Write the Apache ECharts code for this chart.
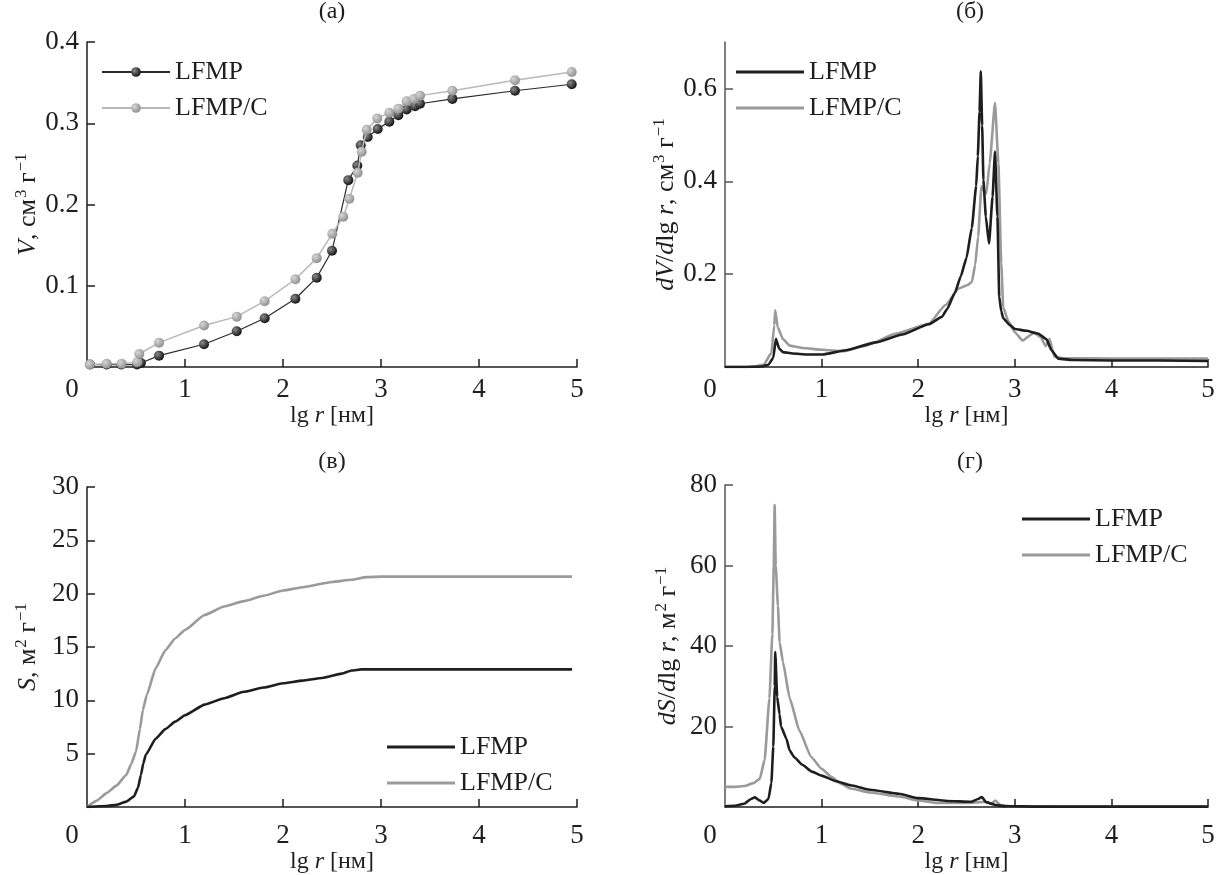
<!DOCTYPE html>
<html><head><meta charset="utf-8">
<script src="https://cdn.jsdelivr.net/npm/echarts@6/dist/echarts.min.js"></script>
<style>html,body{margin:0;padding:0;background:#fff}#c{width:1220px;height:875px}</style>
</head><body><div id="c"></div><script>
// ---------- DATA ----------
// Panel (а): cumulative pore volume V, cm3/g vs lg r
const aLfmpX  = [0.03, 0.2, 0.35, 0.51, 0.55, 0.735, 1.194, 1.528, 1.813, 2.126, 2.344, 2.5, 2.666, 2.758, 2.793, 2.864, 2.966, 3.085, 3.177, 3.262, 3.347, 3.398, 3.728, 4.367, 4.946];
const aLfmpY  = [0.003, 0.003, 0.003, 0.003, 0.005, 0.014, 0.028, 0.044, 0.060, 0.084, 0.110, 0.143, 0.230, 0.248, 0.273, 0.283, 0.293, 0.302, 0.310, 0.317, 0.321, 0.324, 0.330, 0.340, 0.348];
const aLfmpCX = [0.03, 0.2, 0.354, 0.513, 0.534, 0.735, 1.194, 1.528, 1.813, 2.126, 2.344, 2.503, 2.615, 2.677, 2.762, 2.803, 2.854, 2.962, 3.085, 3.177, 3.262, 3.337, 3.398, 3.728, 4.367, 4.946];
const aLfmpCY = [0.003, 0.004, 0.004, 0.006, 0.016, 0.030, 0.051, 0.062, 0.081, 0.108, 0.134, 0.164, 0.185, 0.207, 0.239, 0.265, 0.292, 0.306, 0.313, 0.318, 0.327, 0.330, 0.334, 0.340, 0.353, 0.363];

// Panel (б): dV/dlg r
const bLfmpX  = [0, 0.2, 0.38, 0.45, 0.5, 0.527, 0.56, 0.6, 0.7, 0.85, 1.01, 1.25, 1.56, 1.835, 2.11, 2.245, 2.3, 2.38, 2.44, 2.5, 2.555, 2.6, 2.617, 2.635, 2.648, 2.662, 2.675, 2.70, 2.733, 2.77, 2.795, 2.82, 2.839, 2.86, 2.88, 2.95, 3.0, 3.12, 3.24, 3.327, 3.38, 3.45, 3.6, 4, 4.5, 5];
const bLfmpY  = [0, 0, 0.001, 0.005, 0.02, 0.061, 0.04, 0.032, 0.029, 0.027, 0.027, 0.036, 0.053, 0.07, 0.092, 0.108, 0.125, 0.16, 0.195, 0.235, 0.3, 0.39, 0.454, 0.55, 0.637, 0.52, 0.403, 0.324, 0.266, 0.367, 0.464, 0.324, 0.151, 0.12, 0.105, 0.09, 0.082, 0.078, 0.072, 0.06, 0.036, 0.018, 0.015, 0.014, 0.014, 0.013];
const bLfmpCX = [0, 0.2, 0.3, 0.4, 0.48, 0.51, 0.52, 0.545, 0.6, 0.67, 0.8, 1.01, 1.22, 1.46, 1.77, 2.11, 2.28, 2.42, 2.505, 2.555, 2.59, 2.62, 2.655, 2.68, 2.705, 2.74, 2.795, 2.83, 2.86, 2.88, 2.93, 3.0, 3.08, 3.2, 3.27, 3.32, 3.36, 3.41, 3.5, 4, 4.5, 5];
const bLfmpCY = [0, 0, 0.001, 0.005, 0.03, 0.09, 0.122, 0.086, 0.06, 0.046, 0.041, 0.037, 0.034, 0.046, 0.072, 0.093, 0.133, 0.169, 0.176, 0.183, 0.22, 0.28, 0.389, 0.38, 0.374, 0.439, 0.569, 0.439, 0.223, 0.129, 0.1, 0.075, 0.057, 0.074, 0.064, 0.045, 0.06, 0.022, 0.019, 0.018, 0.018, 0.018];

// Panel (в): cumulative surface S, m2/g
const cLfmpX  = [0, 0.2, 0.3, 0.4, 0.48, 0.52, 0.55, 0.575, 0.6, 0.7, 0.8, 0.9, 1.0, 1.2, 1.4, 1.6, 1.8, 2.0, 2.2, 2.4, 2.6, 2.7, 2.8, 3.5, 4.2, 4.95];
const cLfmpY  = [0, 0.1, 0.2, 0.5, 1.0, 1.8, 3.0, 4.1, 4.9, 6.4, 7.3, 8.0, 8.6, 9.6, 10.2, 10.8, 11.2, 11.6, 11.85, 12.1, 12.5, 12.8, 12.9, 12.9, 12.9, 12.9];
const cLfmpCX = [0, 0.1, 0.2, 0.3, 0.4, 0.45, 0.5, 0.54, 0.57, 0.61, 0.7, 0.8, 0.9, 1.0, 1.2, 1.4, 1.6, 1.8, 2.0, 2.2, 2.5, 2.7, 2.85, 3.0, 4.0, 4.95];
const cLfmpCY = [0, 0.6, 1.3, 2.0, 3.0, 4.0, 5.2, 7.3, 9.1, 10.5, 13.0, 14.7, 15.8, 16.6, 18.0, 18.8, 19.3, 19.8, 20.3, 20.6, 21.1, 21.3, 21.55, 21.6, 21.6, 21.6];

// Panel (г): dS/dlg r
const dLfmpX  = [0, 0.1, 0.2, 0.27, 0.31, 0.36, 0.4, 0.45, 0.48, 0.5, 0.515, 0.52, 0.54, 0.565, 0.58, 0.635, 0.67, 0.72, 0.8, 0.9, 1.0, 1.15, 1.3, 1.5, 1.8, 2.0, 2.3, 2.55, 2.62, 2.66, 2.7, 2.8, 2.9, 3.2, 5];
const dLfmpY  = [0.2, 0.3, 0.8, 2.0, 2.4, 1.6, 1.0, 2.0, 6, 15, 30, 38.5, 27.4, 23, 20, 17, 14, 12.3, 10.5, 8.8, 7.8, 6.4, 5.4, 4.3, 3.3, 2.2, 1.5, 1.3, 2.0, 2.5, 1.2, 0.5, 0.2, 0.1, 0.1];
const dLfmpCX = [0, 0.1, 0.2, 0.3, 0.36, 0.41, 0.46, 0.49, 0.505, 0.514, 0.525, 0.548, 0.565, 0.6, 0.67, 0.77, 0.89, 1.0, 1.1, 1.2, 1.3, 1.5, 1.8, 2.0, 2.2, 2.5, 2.7, 2.75, 2.8, 2.85, 2.95, 3.5, 5];
const dLfmpCY = [5, 5, 5.2, 6, 7, 11.7, 27, 43, 60, 75, 60, 50, 41, 36, 27, 19, 12.5, 9.5, 7.5, 5.8, 4.6, 3.6, 2.6, 1.6, 1.0, 1.0, 1.3, 0.8, 1.6, 0.5, 0.2, 0.1, 0.1];

const xTickLabels = [0, 1, 2, 3, 4, 5];
const aYTicks = [0.1, 0.2, 0.3, 0.4];
const bYTicks = [0.2, 0.4, 0.6];
const cYTicks = [5, 10, 15, 20, 25, 30];
const dYTicks = [20, 40, 60, 80];
const seriesNames = ['LFMP', 'LFMP/C'];
const panelTitles = ['(а)', '(б)', '(в)', '(г)'];

// ---------- CHART ----------
const F = '"Liberation Serif", "DejaVu Serif", serif';
const INK = '#1e1e1e';
const GREY = '#9a9a9a';
const pairs = (xs, ys) => xs.map((x, i) => [x, ys[i]]);

const grids = [
  {left: 87,  top: 42,  width: 490, height: 325},
  {left: 725, top: 42,  width: 483, height: 325},
  {left: 87,  top: 487, width: 490, height: 320},
  {left: 725, top: 485, width: 483, height: 322}
];

const xNameRich = {
  n: {fontFamily: F, fontSize: 24, color: INK, lineHeight: 28},
  i: {fontFamily: F, fontSize: 24, fontStyle: 'italic', color: INK, lineHeight: 28}
};
const yNameRich = {
  n: {fontFamily: F, fontSize: 26, color: INK, lineHeight: 30},
  i: {fontFamily: F, fontSize: 26, fontStyle: 'italic', color: INK, lineHeight: 30},
  s: {fontFamily: F, fontSize: 17, color: INK, lineHeight: 30, verticalAlign: 'top', padding: [0, 0, 0, 1]}
};

function xAx(gi, margin, nameGap) {
  return {
    type: 'value', gridIndex: gi, min: 0, max: 5, interval: 1,
    axisLine: {show: true, onZero: false, lineStyle: {color: INK, width: 1.5}},
    axisTick: {show: true, inside: true, length: 8, customValues: [1, 2, 3, 4, 5], lineStyle: {color: INK, width: 1.5}},
    axisLabel: {
      customValues: xTickLabels, margin: margin, fontFamily: F, fontSize: 27, color: INK,
      formatter: v => v === 0 ? '{z|0}' : String(v),
      rich: {z: {fontFamily: F, fontSize: 27, color: INK, padding: [0, 30, 0, 0]}}
    },
    splitLine: {show: false},
    name: '{n|lg }{i|r}{n| [нм]}', nameLocation: 'middle', nameGap: nameGap,
    nameTextStyle: {rich: xNameRich}
  };
}
function yAx(gi, max, ticks, dec, name, axColor, gap) {
  return {
    type: 'value', gridIndex: gi, min: 0, max: max,
    axisLine: {show: true, onZero: false, lineStyle: {color: axColor, width: 1.5}},
    axisTick: {show: true, inside: true, length: 8, customValues: ticks, lineStyle: {color: axColor, width: 1.5}},
    axisLabel: {customValues: ticks, margin: 8, fontFamily: F, fontSize: 27, color: INK,
      formatter: v => v.toFixed(dec)},
    splitLine: {show: false},
    name: name, nameLocation: 'middle', nameRotate: 90, nameGap: gap,
    nameTextStyle: {rich: yNameRich}
  };
}

const sphere = (c0, c1) => ({type: 'radial', x: 0.35, y: 0.35, r: 0.75,
  colorStops: [{offset: 0, color: c0}, {offset: 1, color: c1}]});

function curve(name, gi, xs, ys, color, z) {
  return {name: name, type: 'line', xAxisIndex: gi, yAxisIndex: gi, data: pairs(xs, ys),
    symbol: 'none', smooth: 0.15, smoothMonotone: 'x', z: z,
    lineStyle: {color: color, width: 2.6}, itemStyle: {color: color}};
}

function legend(gi, left, top, plain) {
  const l = {
    show: true, orient: 'vertical', left: left, top: top,
    data: seriesNames.map(n => 'p' + gi + ':' + n),
    formatter: n => n.split(':')[1],
    itemWidth: 68, itemHeight: 12, itemGap: 10,
    textStyle: {fontFamily: F, fontSize: 26, color: INK},
    selectedMode: false
  };
  if (plain) { l.icon = 'rect'; l.itemHeight = 3; }
  return l;
}

const option = {
  animation: false,
  backgroundColor: '#fff',
  grid: grids,
  xAxis: [xAx(0, 9, 33), xAx(1, 9, 33), xAx(2, 15, 41), xAx(3, 15, 41)],
  yAxis: [
    yAx(0, 0.4, aYTicks, 1, '{i|V}{n|, см}{s|3}{n| г}{s|−1}', INK, 44),
    yAx(1, 0.7, bYTicks, 1, '{i|dV}{n|/}{i|d}{n|lg }{i|r}{n|, см}{s|3}{n| г}{s|−1}', '#555', 42),
    yAx(2, 30, cYTicks, 0, '{i|S}{n|, м}{s|2}{n| г}{s|−1}', INK, 44),
    yAx(3, 80, dYTicks, 0, '{i|dS}{n|/}{i|d}{n|lg }{i|r}{n|, м}{s|2}{n| г}{s|−1}', '#555', 42)
  ],
  legend: [legend(0, 96, 54, false), legend(1, 731, 54, true), legend(2, 382, 729, true), legend(3, 1017, 501, true)],
  series: [
    {name: 'p0:' + seriesNames[0], type: 'line', xAxisIndex: 0, yAxisIndex: 0, data: pairs(aLfmpX, aLfmpY),
      symbol: 'circle', symbolSize: 10, z: 2,
      lineStyle: {color: '#2a2a2a', width: 1.2},
      itemStyle: {color: sphere('#8a8a8a', '#050505'), borderWidth: 0}},
    {name: 'p0:' + seriesNames[1], type: 'line', xAxisIndex: 0, yAxisIndex: 0, data: pairs(aLfmpCX, aLfmpCY),
      symbol: 'circle', symbolSize: 10, z: 3,
      lineStyle: {color: '#b8b8b8', width: 1.5},
      itemStyle: {color: sphere('#d6d6d6', '#888888'), borderWidth: 0}},
    curve('p1:' + seriesNames[0], 1, bLfmpX, bLfmpY, INK, 3),
    curve('p1:' + seriesNames[1], 1, bLfmpCX, bLfmpCY, GREY, 2),
    curve('p2:' + seriesNames[0], 2, cLfmpX, cLfmpY, INK, 3),
    curve('p2:' + seriesNames[1], 2, cLfmpCX, cLfmpCY, GREY, 2),
    curve('p3:' + seriesNames[0], 3, dLfmpX, dLfmpY, INK, 3),
    curve('p3:' + seriesNames[1], 3, dLfmpCX, dLfmpCY, GREY, 2)
  ],
  graphic: [
    [332, 12], [970, 12], [332, 462], [970, 462]
  ].map((p, i) => ({type: 'text', x: p[0], y: p[1], silent: true,
    style: {text: panelTitles[i], fontFamily: F, fontSize: 24, fill: INK, textAlign: 'center', textVerticalAlign: 'middle'}}))
};

const chart = echarts.init(document.getElementById('c'), null, {renderer: 'canvas'});
chart.setOption(option);
</script></body></html>
